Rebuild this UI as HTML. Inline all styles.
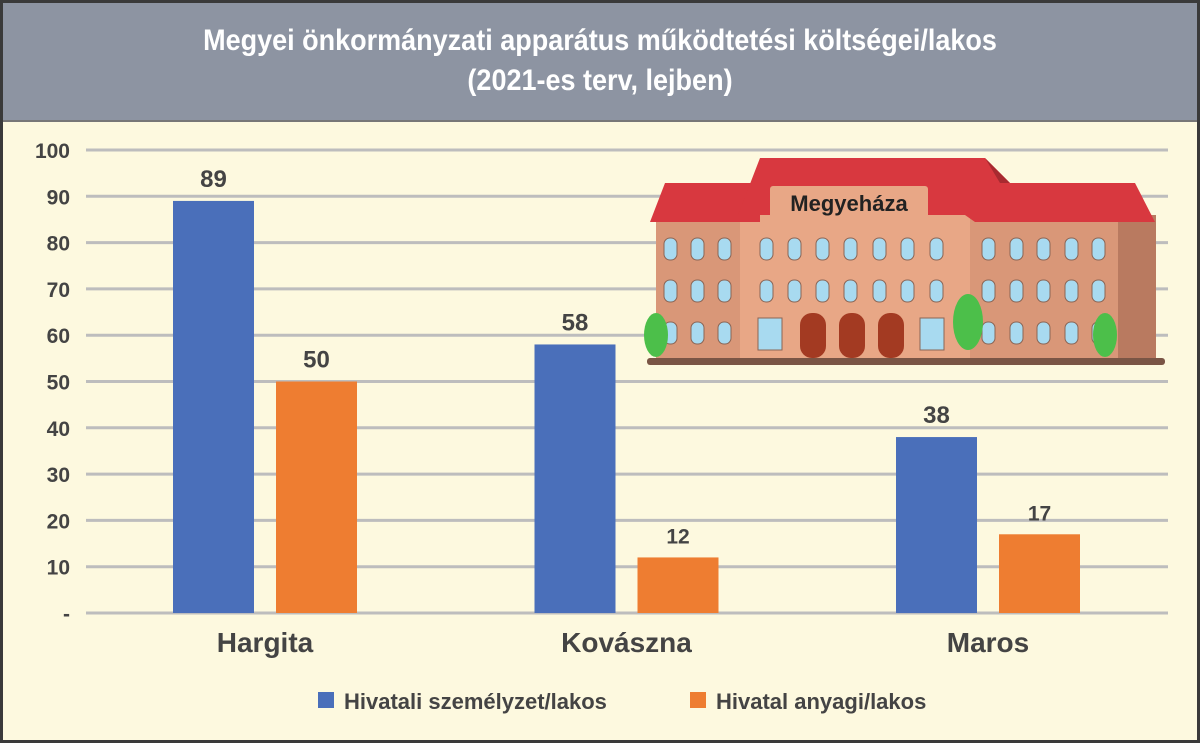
<!DOCTYPE html>
<html><head><meta charset="utf-8"><style>
body{margin:0;width:1200px;height:743px;overflow:hidden;background:#fff}
#wrap{position:absolute;left:0;top:0;width:1194px;height:737px;border:3px solid #3a3a3a;background:#fdf9df}
#title{position:absolute;left:0;top:0;width:1194px;height:117px;background:#8d94a2;border-bottom:2px solid #777}
#title div{color:#fff;font:bold 30px "Liberation Sans",sans-serif;text-align:center;line-height:40px;padding-top:18px;transform:scaleX(0.9)}
svg{position:absolute;left:0;top:0}
text{font-family:"Liberation Sans",sans-serif;font-weight:bold}
</style></head><body>
<div id="wrap">
<div id="title"><div>Megyei önkormányzati apparátus működtetési költségei/lakos<br>(2021-es terv, lejben)</div></div>
</div>
<svg id="chart" width="1200" height="743"></svg>
<script>
const categories=["Hargita","Kovászna","Maros"];
const seriesNames=["Hivatali személyzet/lakos","Hivatal anyagi/lakos"];
const personnel=[89,58,38];
const material=[50,12,17];
const ticks=[0,10,20,30,40,50,60,70,80,90,100];
const tickLabels=["-","10","20","30","40","50","60","70","80","90","100"];
const colors=["#4a6fba","#ee7d31"];
const NS="http://www.w3.org/2000/svg";
const svg=document.getElementById('chart');
const y0=613,y100=150,xL=86,xR=1168;
const yScale=v=>y0-(y0-y100)*v/100;
const groupCenter=i=>265+i*361.5;
function mk(t,a,txt){const e=document.createElementNS(NS,t);for(const k in a)e.setAttribute(k,a[k]);if(txt!==undefined)e.textContent=txt;svg.appendChild(e);return e;}
ticks.forEach((t,i)=>{
 const g=mk('line',{x1:xL,x2:xR,y1:yScale(t),y2:yScale(t),stroke:'#bdbdbd','stroke-width':3});
 
 
 const l=mk('text',{x:70,y:yScale(t)+8,'text-anchor':'end','font-size':21,fill:'#444'},tickLabels[i]);
 
 
});
[personnel,material].forEach((arr,s)=>{
 arr.forEach((v,i)=>{
  const x=groupCenter(i)-92+s*103;
  const b=mk('rect',{x:x,y:yScale(v),width:81,height:y0-yScale(v),fill:colors[s]});
  
  
  const t=mk('text',{x:x+40.5,y:yScale(v)-14,'text-anchor':'middle','font-size':s&&v<20?21:24,fill:'#444'},String(v));
  
  
 });
});
categories.forEach((c,i)=>{
 const t=mk('text',{x:groupCenter(i),y:652,'text-anchor':'middle','font-size':28,fill:'#444'},c);
 
 
});
</script>
<svg width="1200" height="743">
 <rect x="656" y="215" width="500" height="145" fill="#d99778"/>
 <rect x="740" y="215" width="230" height="145" fill="#e8a786"/>
 <rect x="1118" y="215" width="38" height="145" fill="#b97a60"/>
 <path d="M650 222 L665 183 L760 183 L760 222Z" fill="#d8383f"/>
 <path d="M738 215 L760 158 L985 158 L1010 183 L1135 183 L1155 222 L975 222 L965 215Z" fill="#d8383f"/>
 <path d="M985 158 L1010 183 L1000 183Z" fill="#a82a30"/>
 <rect x="770" y="186" width="158" height="32" fill="#e8a786" rx="3"/>
 <text x="849" y="211" text-anchor="middle" font-size="22" fill="#222">Megyeháza</text>
 <g fill="#a8daf0" stroke="#8a6555" stroke-width="1">
  <g id="row"><rect x="664" y="238" width="13" height="22" rx="6"/><rect x="691" y="238" width="13" height="22" rx="6"/><rect x="718" y="238" width="13" height="22" rx="6"/><rect x="760" y="238" width="13" height="22" rx="6"/><rect x="788" y="238" width="13" height="22" rx="6"/><rect x="816" y="238" width="13" height="22" rx="6"/><rect x="844" y="238" width="13" height="22" rx="6"/><rect x="873" y="238" width="13" height="22" rx="6"/><rect x="901" y="238" width="13" height="22" rx="6"/><rect x="930" y="238" width="13" height="22" rx="6"/><rect x="982" y="238" width="13" height="22" rx="6"/><rect x="1010" y="238" width="13" height="22" rx="6"/><rect x="1037" y="238" width="13" height="22" rx="6"/><rect x="1065" y="238" width="13" height="22" rx="6"/><rect x="1092" y="238" width="13" height="22" rx="6"/></g>
  <use href="#row" y="42"/>
  <g transform="translate(0,84)"><rect x="664" y="238" width="13" height="22" rx="6"/><rect x="691" y="238" width="13" height="22" rx="6"/><rect x="718" y="238" width="13" height="22" rx="6"/><rect x="982" y="238" width="13" height="22" rx="6"/><rect x="1010" y="238" width="13" height="22" rx="6"/><rect x="1037" y="238" width="13" height="22" rx="6"/><rect x="1065" y="238" width="13" height="22" rx="6"/><rect x="1092" y="238" width="13" height="22" rx="6"/></g>
  <rect x="758" y="318" width="24" height="32"/><rect x="920" y="318" width="24" height="32"/>
 </g>
 <g fill="#a33a22"><rect x="800" y="313" width="26" height="45" rx="12"/><rect x="839" y="313" width="26" height="45" rx="12"/><rect x="878" y="313" width="26" height="45" rx="12"/></g>
 <g fill="#4cbf4a"><ellipse cx="656" cy="335" rx="12" ry="22"/><ellipse cx="968" cy="322" rx="15" ry="28"/><ellipse cx="1105" cy="335" rx="12" ry="22"/></g>
 <rect x="647" y="358" width="518" height="7" fill="#7a5545" rx="3"/>
</svg>
<svg width="1200" height="743">
 <rect x="318" y="692" width="16" height="16" fill="#4a6fba"/>
 <text x="344" y="709" font-size="22" fill="#444">Hivatali személyzet/lakos</text>
 <rect x="690" y="692" width="16" height="16" fill="#ee7d31"/>
 <text x="716" y="709" font-size="22" fill="#444">Hivatal anyagi/lakos</text>
</svg>
</body></html>
